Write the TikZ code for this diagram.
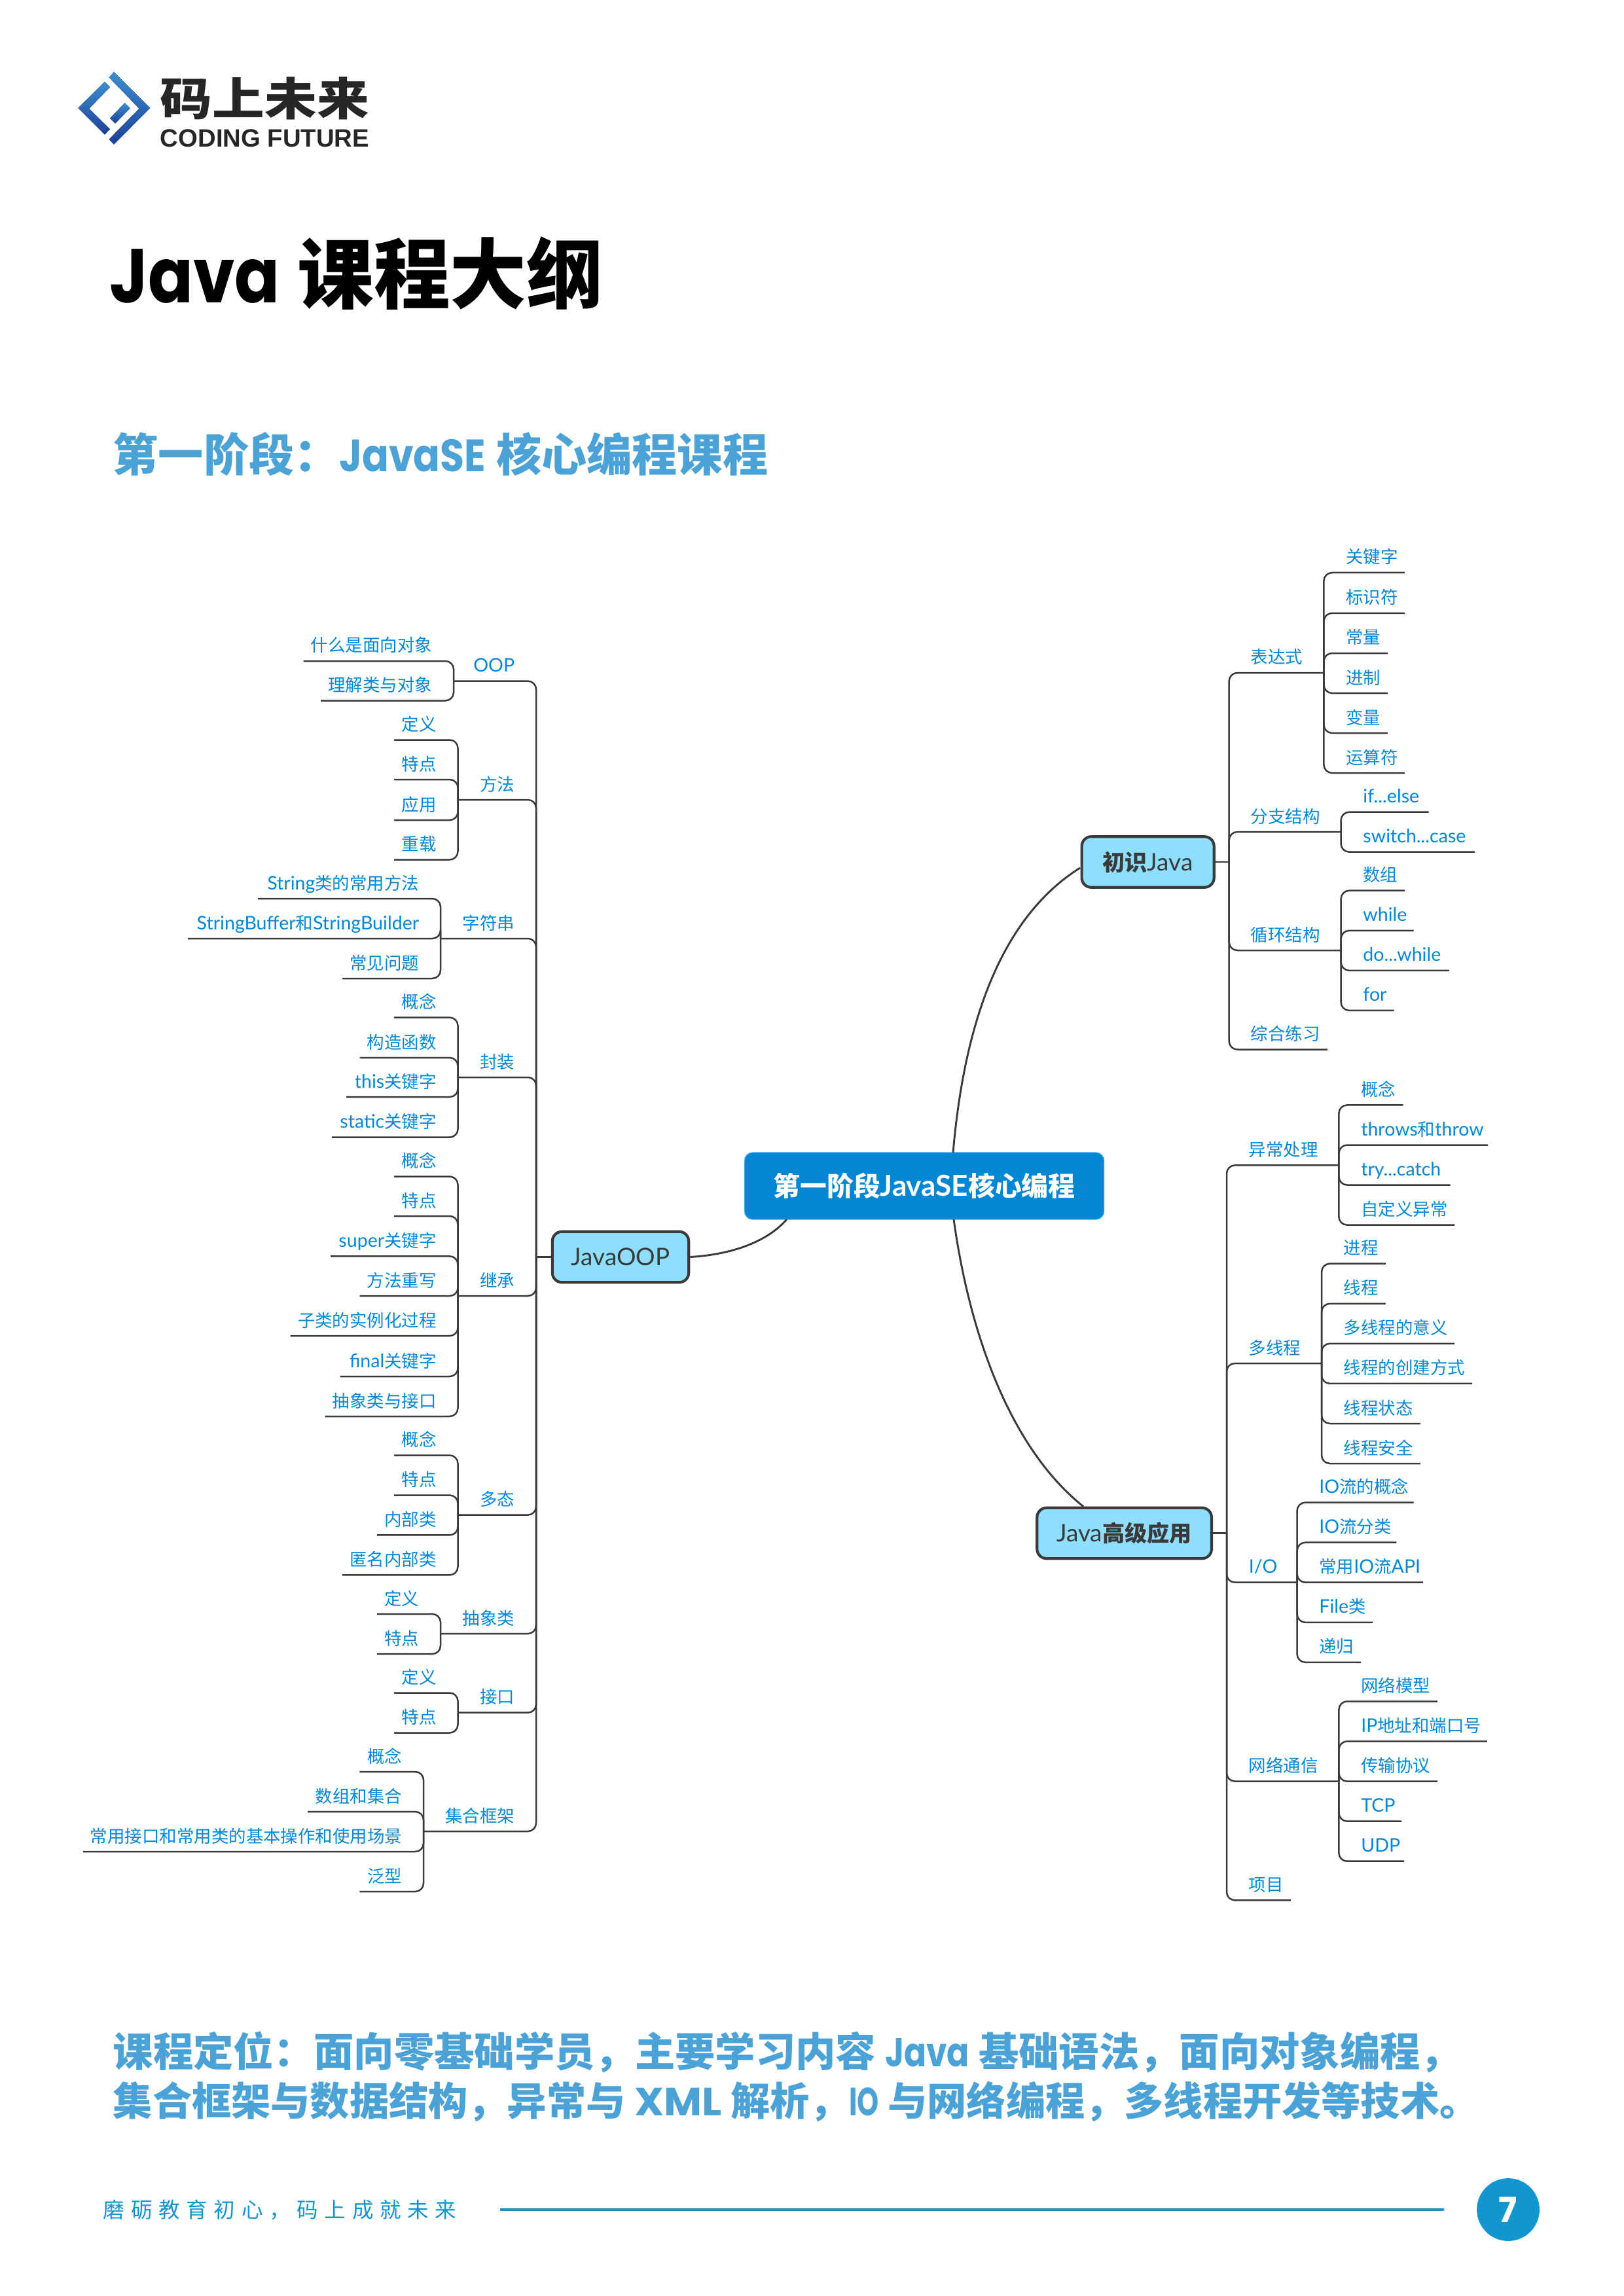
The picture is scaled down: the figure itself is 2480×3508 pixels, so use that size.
\documentclass[tikz,border=0pt]{standalone}
\usepackage{fontspec}
\setmainfont{Noto Sans CJK SC}
\newfontfamily\enfont[Scale=1.08]{Lato}
\newfontfamily\headfont{Poppins}
\newfontfamily\heavyfont{Noto Sans CJK SC Black}
\newcommand{\ltn}[1]{{\enfont #1}}
\newcommand{\hdn}[2][1]{\scalebox{#1}[1]{\headfont #2}}
\definecolor{leafblue}{HTML}{0288D6}
\definecolor{topicfill}{HTML}{8EDFFD}
\definecolor{rootblue}{HTML}{0386D3}
\definecolor{rootedge}{HTML}{2FA8E8}
\definecolor{darkline}{HTML}{3A3A3A}
\definecolor{headblue}{HTML}{4BA2D6}
\definecolor{footblue}{HTML}{1296D0}
\definecolor{logolight}{HTML}{3A8FD0}
\definecolor{logodark}{HTML}{1E3F97}
\tikzset{
  leaf/.style={font=\fontsize{6.35}{8}\selectfont, text=leafblue, inner sep=0pt},
  branch/.style={darkline, line width=0.6pt, rounded corners=3pt},
  curve/.style={darkline, line width=0.7pt},
  topic/.style={draw=darkline, line width=1pt, fill=topicfill, rounded corners=3.5pt, minimum height=18.6pt, text=darkline, inner sep=0pt, font=\fontsize{8.2}{10}\selectfont},
  logopart/.style={top color=logolight, bottom color=logodark, draw=none}
}
\newcommand{\leftgroup}[3]{
  \foreach \yy/\xx/\txt [count=\i] in {#3} {
    \coordinate (#1\i) at (\xx,\yy);
    \node [leaf, anchor=base east] (#1t\i) at (#2-32,\yy-14) {\txt};
    \draw [branch] (#1) |- (#1\i);
  }
}
\newcommand{\rightgroup}[3]{
  \foreach \yy/\xx/\txt [count=\i] in {#3} {
    \coordinate (#1\i) at (\xx,\yy);
    \node [leaf, anchor=base west] (#1t\i) at (#2+33,\yy-14) {\txt};
    \draw [branch] (#1) |- (#1\i);
  }
}
\begin{document}
\begin{tikzpicture}[x=0.24pt, y=-0.24pt]
      \useasboundingbox (0,0) rectangle (2480,3508);

      \fill [logopart] (174,110) -- (229.3,165) -- (174,220.7) -- (166.7,212.7) -- (212.7,166) -- (166.7,118.3) -- cycle;
      \fill [logopart] (160,125) -- (168,133.3) -- (136,166) -- (168,197.3) -- (160,205.7) -- (119.3,165) -- cycle;
      \fill [logopart] (190.7,157.3) -- (198.7,165.3) -- (176,188.7) -- (168,180.7) -- cycle;
      \node [anchor=base west, inner sep=0pt, xscale=1.16, font=\fontsize{16.5}{18}\selectfont\heavyfont, text=black!85] (brand) at (244,177) {码上未来};
      \node [anchor=base west, inner sep=0pt, font=\fontsize{9.2}{11}\selectfont\bfseries\fontspec{Liberation Sans}, text=black!85] (brandsub) at (244,225) {CODING FUTURE};

      \node [anchor=base west, inner sep=0pt, font=\fontsize{28}{30}\selectfont\heavyfont] (title) at (167,463) {\hdn[0.87]{\bfseries Java} 课程大纲};
      \node [anchor=base west, inner sep=0pt, text=headblue, font=\fontsize{16.6}{20}\selectfont\bfseries] (subtitle) at (172,721) {第一阶段：\hdn[0.87]{JavaSE} 核心编程课程};

      \node [topic, minimum width=50pt] (oopnode) at (948,1920.5) {\ltn{JavaOOP}};
      \node [topic, minimum width=48.5pt] (basic) at (1753.6,1317) {{\bfseries 初识}\ltn{Java}};
      \node [topic, minimum width=64pt] (advanced) at (1717.6,2342.5) {\ltn{Java}{\bfseries 高级应用}};
      \node [draw=rootedge, line width=0.3pt, fill=rootblue, rounded corners=3pt, minimum width=131.8pt, minimum height=24.5pt, inner sep=0pt, text=white, font=\fontsize{9.8}{12}\selectfont\bfseries] (root) at (1412,1812) {第一阶段\ltn{JavaSE}核心编程};

      \coordinate (rootup) at (1456,1761);
      \coordinate (rootdown) at (1457,1863);
      \coordinate (rootleft) at (1202,1863);
      \coordinate (basicin) at (1650,1326);
      \draw [curve] (rootup) .. controls (1475,1540) and (1540,1395) .. (basicin);
      \draw [curve] (rootdown) .. controls (1480,2030) and (1540,2210) .. (advanced.north -| 1655,0);
      \draw [curve] (oopnode.east) .. controls (1100,1918) and (1165,1905) .. (rootleft);

      \coordinate (busl) at (819,1920.5);
      \coordinate (busr) at (1877.7,1317);
      \coordinate (busq) at (1874,2342.5);
      \draw [branch] (oopnode.west) -- (busl);
      \draw [branch] (basic.east) -- (busr);
      \draw [branch] (advanced.east) -- (busq);

      \foreach \nm/\yy/\vx/\txt in {oop/1040.6/693/\ltn{OOP}, meth/1222/699.5/方法, str/1434/673/字符串, enc/1646/699.5/封装, inh/1980/699.5/继承, poly/2314.6/699.5/多态, abst/2496/673/抽象类, iface/2616.7/699.5/接口, coll/2798/647/集合框架} {
        \coordinate (\nm) at (\vx,\yy);
        \node [leaf, anchor=base east] (l\nm) at (787,\yy-14) {\txt};
        \draw [branch] (busl) |- (\nm);
      }
      \leftgroup{oop}{693}{1010/463.5/什么是面向对象, 1070.5/490/理解类与对象}
      \leftgroup{meth}{699.5}{1130.5/602/定义, 1191/602/特点, 1253/602/应用, 1313.5/602/重载}
      \leftgroup{str}{673}{1373/394/\ltn{String}类的常用方法, 1434/287/\ltn{StringBuffer}和\ltn{StringBuilder}, 1495/523/常见问题}
      \leftgroup{enc}{699.5}{1554.6/602/概念, 1616/549.6/构造函数, 1676/529/\ltn{this}关键字, 1737.6/507/\ltn{static}关键字}
      \leftgroup{inh}{699.5}{1797.6/602/概念, 1858/602/特点, 1919.4/505/\ltn{super}关键字, 1980/549.6/方法重写, 2041/443.7/子类的实例化过程, 2103/519.6/\ltn{final}关键字, 2164/496.7/抽象类与接口}
      \leftgroup{poly}{699.5}{2223.5/602/概念, 2284.5/602/特点, 2345.4/575.8/内部类, 2406.4/522.8/匿名内部类}
      \leftgroup{abst}{673}{2466/575.8/定义, 2527/575.8/特点}
      \leftgroup{iface}{699.5}{2586.5/602/定义, 2647.5/602/特点}
      \leftgroup{coll}{647}{2707/549.3/概念, 2768/470/数组和集合, 2829/126.8/常用接口和常用类的基本操作和使用场景, 2890/549.3/泛型}

      \foreach \nm/\yy/\vx/\txt in {expr/1028/2022.4/表达式, cond/1271/2048.6/分支结构, loop/1452/2048.6/循环结构, prac/1603.5/2028/综合练习} {
        \coordinate (\nm) at (\vx,\yy);
        \node [leaf, anchor=base west] (l\nm) at (1910,\yy-14) {\txt};
        \draw [branch] (busr) |- (\nm);
      }
      \rightgroup{expr}{2022.4}{875/2146/关键字, 936.8/2146/标识符, 998/2120/常量, 1059/2120/进制, 1120/2120/变量, 1181/2146/运算符}
      \rightgroup{cond}{2048.6}{1240.7/2182.5/\ltn{if...else}, 1301.7/2253/\ltn{switch...case}}
      \rightgroup{loop}{2048.6}{1360.7/2146/数组, 1421.8/2159.6/\ltn{while}, 1482.8/2213.8/\ltn{do...while}, 1543.9/2129.6/\ltn{for}}

      \foreach \nm/\yy/\vx/\txt in {exc/1780.4/2045.4/异常处理, thr/2083/2019/多线程, iost/2417.7/1981.6/\ltn{I/O}, net/2721.6/2045.4/网络通信, proj/2903.3/1972/项目} {
        \coordinate (\nm) at (\vx,\yy);
        \node [leaf, anchor=base west] (l\nm) at (1907,\yy-14) {\txt};
        \draw [branch] (busq) |- (\nm);
      }
      \rightgroup{exc}{2045.4}{1688.4/2143.6/概念, 1749.5/2273/\ltn{throws}和\ltn{throw}, 1810.5/2215.7/\ltn{try...catch}, 1871.6/2222/自定义异常}
      \rightgroup{thr}{2019}{1930.7/2116.8/进程, 1991.8/2116.8/线程, 2052.8/2222/多线程的意义, 2113.9/2248.9/线程的创建方式, 2175/2169.8/线程状态, 2236/2169.8/线程安全}
      \rightgroup{iost}{1981.6}{2295.6/2159.6/\ltn{IO}流的概念, 2356.7/2133.4/\ltn{IO}流分类, 2417.7/2174/常用\ltn{IO}流\ltn{API}, 2478.8/2097/\ltn{File}类, 2539.8/2079/递归}
      \rightgroup{net}{2045.4}{2599.5/2196/网络模型, 2660.5/2271.8/\ltn{IP}地址和端口号, 2721.6/2196/传输协议, 2782.6/2141/\ltn{TCP}, 2843.7/2145/\ltn{UDP}}

      \node [anchor=base west, inner sep=0pt, text=headblue, font=\fontsize{14.72}{18}\selectfont\bfseries] (desca) at (172,3157) {课程定位：面向零基础学员，主要学习内容 \hdn[0.82]{Java} 基础语法，面向对象编程，};
      \node [anchor=base west, inner sep=0pt, text=headblue, font=\fontsize{14.45}{18}\selectfont\bfseries] (descb) at (172,3232) {集合框架与数据结构，异常与 \hdn[1.05]{XML} 解析，\hdn[0.7]{IO} 与网络编程，多线程开发等技术。};

      \node [anchor=base west, inner sep=0pt, text=footblue, font=\fontsize{7.8}{10}\selectfont\addfontfeature{LetterSpace=30}] (motto) at (157,3388) {磨砺教育初心，码上成就未来};
      \node [circle, fill=footblue, minimum size=23pt, inner sep=0pt, text=white, font=\fontsize{12.7}{14}\selectfont\headfont\bfseries] (page) at (2304,3376) {7};
      \coordinate (footl) at (764,3376);
      \coordinate (footr) at (2206,3376);
      \draw [footblue, line width=1pt] (footl) -- (footr);
    \end{tikzpicture}
\end{document}
